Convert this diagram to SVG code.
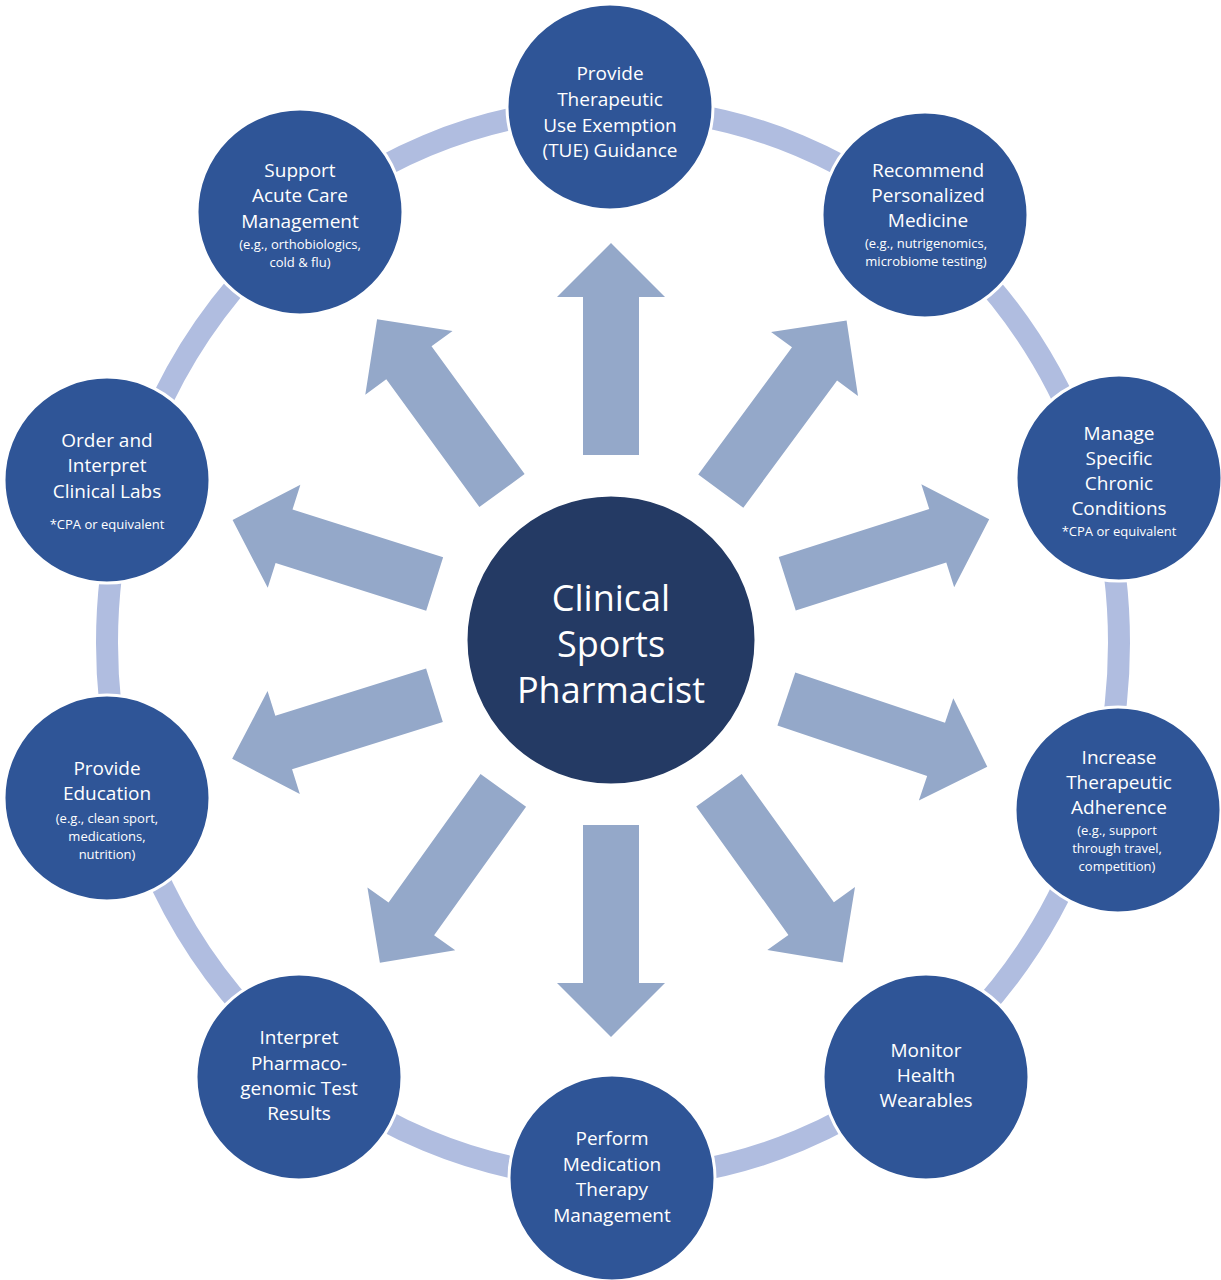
<svg xmlns="http://www.w3.org/2000/svg" width="1221" height="1280" viewBox="0 0 1221 1280">
<style>
.n{fill:#2f5597;stroke:#fff;stroke-width:3}
.a{fill:#94a8c9}
text{font-family:"Open Sans","Liberation Sans",sans-serif;fill:#fff;text-anchor:middle}
.t{font-size:19px}
.s{font-size:13px}
</style>
<defs><path id="arr" d="M185,-28 L343,-28 L343,-54 L397,0 L343,54 L343,28 L185,28 Z"/></defs>
<rect width="1221" height="1280" fill="#fff"/>
<ellipse cx="613" cy="643" rx="506" ry="535" fill="none" stroke="#b0bde0" stroke-width="22"/>
<g id="connectors" class="a" transform="translate(611,640)">
<use href="#arr" transform="rotate(-90)"/>
<use href="#arr" transform="rotate(-53.6)"/>
<use href="#arr" transform="rotate(-17.7)"/>
<use href="#arr" transform="rotate(18.6)"/>
<use href="#arr" transform="rotate(54.3)"/>
<use href="#arr" transform="rotate(90)"/>
<use href="#arr" transform="rotate(125.6)"/>
<use href="#arr" transform="rotate(162.6)"/>
<use href="#arr" transform="rotate(-162.4)"/>
<use href="#arr" transform="rotate(-126.1)"/>
</g>
<g id="center"><circle cx="611" cy="640" r="145" fill="#243a64" stroke="#fff" stroke-width="3"/>
<text font-size="36" x="611" y="611">Clinical</text><text font-size="36" x="611" y="657">Sports</text><text font-size="36" x="611" y="703">Pharmacist</text></g>
<g id="n1"><circle class="n" cx="610" cy="107" r="103"/><text class="t" x="610" y="80">Provide</text><text class="t" x="610" y="106">Therapeutic</text><text class="t" x="610" y="132">Use Exemption</text><text class="t" x="610" y="157">(TUE) Guidance</text></g>
<g id="n2"><circle class="n" cx="925" cy="215" r="103"/><text class="t" x="928" y="177">Recommend</text><text class="t" x="928" y="202">Personalized</text><text class="t" x="928" y="227">Medicine</text><text class="s" x="926" y="248">(e.g., nutrigenomics,</text><text class="s" x="926" y="266">microbiome testing)</text></g>
<g id="n3"><circle class="n" cx="1119" cy="478" r="103"/><text class="t" x="1119" y="440">Manage</text><text class="t" x="1119" y="465">Specific</text><text class="t" x="1119" y="490">Chronic</text><text class="t" x="1119" y="515">Conditions</text><text class="s" x="1119" y="536">*CPA or equivalent</text></g>
<g id="n4"><circle class="n" cx="1118" cy="810" r="103"/><text class="t" x="1119" y="764">Increase</text><text class="t" x="1119" y="789">Therapeutic</text><text class="t" x="1119" y="814">Adherence</text><text class="s" x="1117" y="835">(e.g., support</text><text class="s" x="1117" y="853">through travel,</text><text class="s" x="1117" y="871">competition)</text></g>
<g id="n5"><circle class="n" cx="926" cy="1077" r="103"/><text class="t" x="926" y="1057">Monitor</text><text class="t" x="926" y="1082">Health</text><text class="t" x="926" y="1107">Wearables</text></g>
<g id="n6"><circle class="n" cx="612" cy="1178" r="103"/><text class="t" x="612" y="1145">Perform</text><text class="t" x="612" y="1171">Medication</text><text class="t" x="612" y="1196">Therapy</text><text class="t" x="612" y="1222">Management</text></g>
<g id="n7"><circle class="n" cx="299" cy="1077" r="103"/><text class="t" x="299" y="1044">Interpret</text><text class="t" x="299" y="1070">Pharmaco-</text><text class="t" x="299" y="1095">genomic Test</text><text class="t" x="299" y="1120">Results</text></g>
<g id="n8"><circle class="n" cx="107" cy="798" r="103"/><text class="t" x="107" y="775">Provide</text><text class="t" x="107" y="800">Education</text><text class="s" x="107" y="823">(e.g., clean sport,</text><text class="s" x="107" y="841">medications,</text><text class="s" x="107" y="859">nutrition)</text></g>
<g id="n9"><circle class="n" cx="107" cy="480" r="103"/><text class="t" x="107" y="447">Order and</text><text class="t" x="107" y="472">Interpret</text><text class="t" x="107" y="498">Clinical Labs</text><text class="s" x="107" y="529">*CPA or equivalent</text></g>
<g id="n10"><circle class="n" cx="300" cy="212" r="103"/><text class="t" x="300" y="177">Support</text><text class="t" x="300" y="202">Acute Care</text><text class="t" x="300" y="228">Management</text><text class="s" x="300" y="249">(e.g., orthobiologics,</text><text class="s" x="300" y="267">cold &amp; flu)</text></g>
</svg>
